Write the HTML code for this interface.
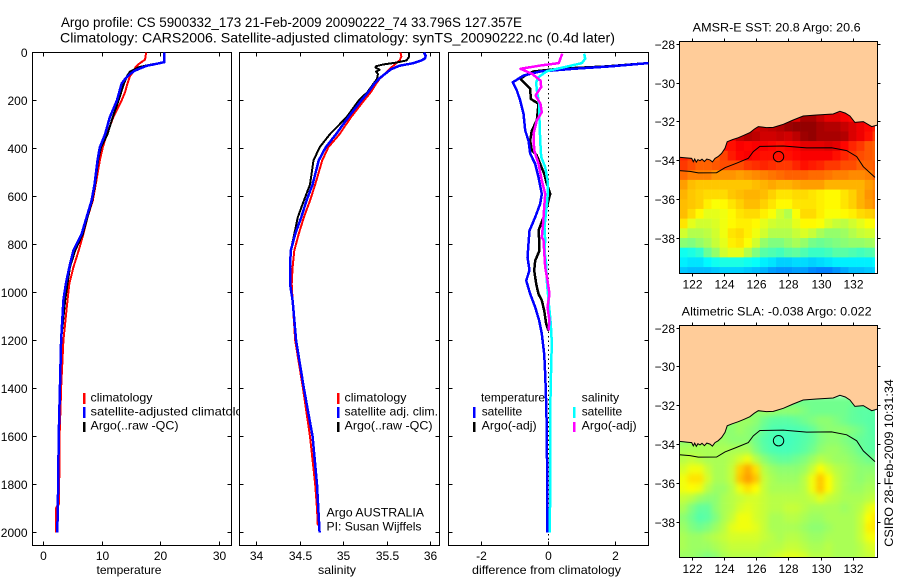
<!DOCTYPE html>
<html>
<head>
<meta charset="utf-8">
<title>Argo profile</title>
<style>
html,body{margin:0;padding:0;background:#fff;}
svg{display:block;}
text{font-family:"Liberation Sans",sans-serif;font-size:12px;fill:#000;}
.title{font-size:14px;}
</style>
</head>
<body>
<svg id="chart" xmlns="http://www.w3.org/2000/svg" width="900" height="580" viewBox="0 0 900 580">
<defs>
<clipPath id="clip-diff"><rect x="448.5" y="52.5" width="200" height="493"/></clipPath>
<clipPath id="clip-map1"><rect x="679.5" y="41.5" width="195.5" height="232"/></clipPath>
<clipPath id="clip-map2"><rect x="679.5" y="325.5" width="195.5" height="232"/></clipPath>
<filter id="soften" filterUnits="userSpaceOnUse" x="650" y="300" width="250" height="280" color-interpolation-filters="sRGB"><feGaussianBlur stdDeviation="2.6"/></filter>
</defs>
<rect x="0" y="0" width="900" height="580" fill="#fff"/>
<text class="title" x="61" y="27" textLength="461" lengthAdjust="spacingAndGlyphs">Argo profile: CS 5900332_173 21-Feb-2009 20090222_74 33.796S 127.357E</text>
<text class="title" x="60" y="42.5" textLength="555" lengthAdjust="spacingAndGlyphs">Climatology: CARS2006. Satellite-adjusted climatology: synTS_20090222.nc (0.4d later)</text>

<g id="panel-temp">
<rect x="32.5" y="52.5" width="199" height="493" fill="#fff" stroke="#000"/>
<g id="temp-ticks"></g>
<g id="temp-lines"></g>
<text x="129" y="574" text-anchor="middle" textLength="65" lengthAdjust="spacingAndGlyphs">temperature</text>
<rect x="83" y="393" width="2.5" height="11" fill="#f00"/>
<rect x="83" y="407" width="2.5" height="11" fill="#00f"/>
<rect x="83" y="422" width="2.5" height="10" fill="#000"/>
<text x="90.5" y="401.5" textLength="62" lengthAdjust="spacingAndGlyphs">climatology</text>
<text x="90.5" y="415.7" textLength="166" lengthAdjust="spacingAndGlyphs">satellite-adjusted climatology</text>
<text x="90.5" y="429.7" textLength="88" lengthAdjust="spacingAndGlyphs">Argo(..raw -QC)</text>
</g>

<g id="panel-sal">
<rect x="239.5" y="52.5" width="200" height="493" fill="#fff" stroke="#000"/>
<g id="sal-ticks"></g>
<g id="sal-lines"></g>
<text x="337" y="574" text-anchor="middle" textLength="38" lengthAdjust="spacingAndGlyphs">salinity</text>
<rect x="337" y="393" width="2.5" height="11" fill="#f00"/>
<rect x="337" y="407" width="2.5" height="11" fill="#00f"/>
<rect x="337" y="422" width="2.5" height="10" fill="#000"/>
<text x="344.5" y="401.5" textLength="62" lengthAdjust="spacingAndGlyphs">climatology</text>
<text x="344.5" y="415.7" textLength="93.5" lengthAdjust="spacingAndGlyphs">satellite adj. clim.</text>
<text x="344.5" y="429.7" textLength="88" lengthAdjust="spacingAndGlyphs">Argo(..raw -QC)</text>
<text x="326.5" y="516.7" textLength="97.5" lengthAdjust="spacingAndGlyphs">Argo AUSTRALIA</text>
<text x="326.5" y="530.7" textLength="95" lengthAdjust="spacingAndGlyphs">PI: Susan Wijffels</text>
</g>

<g id="panel-diff">
<rect x="448.5" y="52.5" width="200" height="493" fill="#fff" stroke="#000"/>
<g id="diff-ticks"></g>
<g id="diff-lines" clip-path="url(#clip-diff)"></g>
<text x="546.5" y="574" text-anchor="middle" textLength="149" lengthAdjust="spacingAndGlyphs">difference from climatology</text>
<text x="481" y="401.5" textLength="64" lengthAdjust="spacingAndGlyphs">temperature</text>
<text x="581.7" y="401.5" textLength="37.5" lengthAdjust="spacingAndGlyphs">salinity</text>
<rect x="473" y="407" width="2.5" height="11" fill="#00f"/>
<rect x="473" y="422" width="2.5" height="10" fill="#000"/>
<rect x="573" y="407" width="2.5" height="11" fill="#0ff"/>
<rect x="573" y="422" width="2.5" height="10" fill="#f0f"/>
<text x="481.7" y="415.7" textLength="40.5" lengthAdjust="spacingAndGlyphs">satellite</text>
<text x="481.7" y="429.7" textLength="55" lengthAdjust="spacingAndGlyphs">Argo(-adj)</text>
<text x="581.7" y="415.7" textLength="40.5" lengthAdjust="spacingAndGlyphs">satellite</text>
<text x="581.7" y="429.7" textLength="55" lengthAdjust="spacingAndGlyphs">Argo(-adj)</text>
</g>

<g id="map-sst">
<text x="692.7" y="31.5" textLength="168" lengthAdjust="spacingAndGlyphs">AMSR-E SST: 20.8 Argo: 20.6</text>
<g clip-path="url(#clip-map1)"><g id="sst-cells"></g></g>
<g id="sst-overlay"></g>
<rect x="679.5" y="41.5" width="198" height="232" fill="none" stroke="#000"/>
<g id="sst-ticks"></g>
</g>

<g id="map-sla">
<text x="681.7" y="315.5" textLength="190" lengthAdjust="spacingAndGlyphs">Altimetric SLA: -0.038 Argo: 0.022</text>
<g clip-path="url(#clip-map2)"><g id="sla-cells" filter="url(#soften)"></g></g>
<g id="sla-overlay"></g>
<rect x="679.5" y="325.5" width="198" height="232" fill="none" stroke="#000"/>
<g id="sla-ticks"></g>
</g>

<text transform="translate(893,546.7) rotate(-90)" textLength="167.5" lengthAdjust="spacingAndGlyphs">CSIRO 28-Feb-2009 10:31:34</text>
</svg>

<script>
/* ---------- tick labels ---------- */
const depthTicks = [0,200,400,600,800,1000,1200,1400,1600,1800,2000];
const tempTicks = [0,10,20,30];
const salTicks = [34,34.5,35,35.5,36];
const diffTicks = [-2,0,2];
const lonTicks = [122,124,126,128,130,132];
const latTicks = [-28,-30,-32,-34,-36,-38];

/* ---------- temperature profiles ---------- */
const tempClimDepth = [0,30,45,60,80,100,130,165,200,270,340,395,450,550,617,686,756,825,895,964,1033,1200,1400,1450];
const tempClimValue = [17.5,17.3,16.4,15.7,15.3,14.7,14.3,13.9,13.3,11.9,10.8,10.1,9.6,8.9,8.4,7.5,6.8,6.0,5.1,4.4,4.1,3.4,3.0,3.0];
const tempClimDeepDepth = [1450,1600,1780,1880,1900,2000];
const tempClimDeepValue = [2.9,2.7,2.65,2.6,2.15,2.2];
const tempArgoDepth = [0,40,50,60,80,100,130,200,270,340,395,450,550,617,686,756,825,895,964,1033,1200,1400,1600,1800,2000];
const tempArgoValue = [20.6,20.6,18.4,16.4,14.7,14.2,13.7,12.8,11.8,10.9,9.8,9.3,8.8,8.3,7.5,6.7,5.4,4.5,4.1,3.7,3.0,2.8,2.6,2.5,2.35];
const tempSatDepth = [0,40,50,55,75,90,110,130,200,270,340,395,450,550,617,686,756,825,895,964,1033,1200,1400,1600,1800,2000];
const tempSatValue = [20.6,20.6,18.7,17.6,15.6,14.7,13.9,13.3,12.5,11.3,10.5,9.6,9.2,8.7,8.2,7.35,6.5,5.1,4.4,3.8,3.4,3.0,2.8,2.6,2.5,2.35];

/* ---------- salinity profiles ---------- */
const salClimDepth = [0,17,33,45,70,90,110,130,165,200,270,340,395,450,550,617,686,756,825,895,964,1033,1200,1400,1600,1800,1900,1970];
const salClimValue = [35.65,35.66,35.64,35.6,35.52,35.47,35.41,35.37,35.31,35.23,35.08,34.95,34.82,34.75,34.67,34.61,34.54,34.48,34.43,34.41,34.4,34.41,34.44,34.53,34.61,34.67,34.69,34.7];
const salArgoDepth = [0,17,33,42,50,57,62,72,80,90,110,130,165,200,270,340,395,450,550,617,686,756,825,895,964,1033,1200,1400,1600,1800,2000];
const salArgoValue = [35.75,35.75,35.72,35.6,35.45,35.37,35.36,35.41,35.37,35.39,35.38,35.34,35.27,35.17,35.03,34.84,34.72,34.65,34.61,34.54,34.47,34.43,34.39,34.38,34.38,34.41,34.45,34.54,34.64,34.69,34.72];
const salSatDepth = [0,14,25,33,45,55,70,90,110,130,165,200,270,340,395,450,550,617,686,756,825,895,964,1033,1200,1400,1600,1800,2000];
const salSatValue = [35.92,35.94,35.93,35.89,35.79,35.64,35.54,35.47,35.4,35.35,35.28,35.2,35.05,34.91,34.79,34.71,34.64,34.57,34.51,34.44,34.39,34.38,34.38,34.41,34.45,34.54,34.64,34.69,34.72];

/* ---------- differences from climatology ---------- */
const diffTempArgoDepth = [0,40,44,58,68,79,96,110,130,151,193,214,283,325,367,408,429,464,505,547,589,644,686,742,783,825,867,908,964,1006,1033,1075,1131,1160];
const diffTempArgoValue = [3.1,3.1,3.0,1.75,0.3,-0.45,-0.7,-0.85,-0.7,-0.55,-0.53,-0.3,-0.35,-0.5,-0.55,-0.5,-0.35,-0.25,-0.13,-0.05,0.05,-0.05,-0.15,-0.3,-0.28,-0.27,-0.4,-0.43,-0.37,-0.3,-0.2,-0.13,-0.07,0];
const diffTempSatDepth = [0,40,44,58,68,79,96,124,158,200,255,325,367,422,464,520,589,630,686,742,797,853,908,950,1006,1061,1117,1172,1256,1340,1464,1575,1800,2000];
const diffTempSatValue = [3.1,3.1,3.0,1.85,0.75,-0.25,-0.75,-1.07,-0.95,-0.85,-0.75,-0.7,-0.6,-0.55,-0.4,-0.3,-0.2,-0.25,-0.4,-0.57,-0.6,-0.63,-0.57,-0.67,-0.55,-0.4,-0.28,-0.2,-0.13,-0.1,-0.07,-0.05,-0.04,-0.03];
const diffSalSatDepth = [5,26,44,54,68,78,103,124,158,214,283,367,436,478,533,603,658,728,783,825,881,950,1033,1103,1158,1214,1297,1436,1575,1800,2000];
const diffSalSatValue = [1.07,1.1,1.0,0.7,0.25,-0.05,-0.3,-0.37,-0.35,-0.28,-0.27,-0.25,-0.22,-0.1,-0.03,-0.03,-0.07,-0.12,-0.1,-0.12,-0.07,-0.05,0,0.05,0.08,0.1,0.08,0.06,0.05,0.05,0.04];
const diffSalArgoDepth = [5,44,54,68,89,117,144,179,214,249,283,339,408,464,533,589,644,728,769,783,895,950,1006,1061,1117,1158];
const diffSalArgoValue = [0.41,0.31,-0.24,-0.84,-0.49,-0.24,-0.22,-0.39,-0.24,-0.2,-0.35,-0.45,-0.43,-0.3,-0.2,-0.1,-0.13,-0.17,-0.2,-0.15,-0.1,-0.03,0.03,-0.03,0.03,0];

/* ---------- maps: rows from -31.5 south in 0.5 deg, columns from 121.2 east in 0.5 deg ---------- */
const sstValues = [
[21,21,21,21,21,21,21,21,21,21,21,21,21,21,21,21.6,21.6,21.3,21,21,20.8,20.7,20.7,20.6,20.5],
[20.8,20.8,20.8,20.8,20.8,20.8,20.8,20.8,20.8,21.2,21.3,21.4,21.5,21.7,21.8,21.8,21.8,21.6,21.5,21.5,21.3,21.1,20.9,20.7,20.5],
[20.8,20.8,20.8,20.8,20.8,20.8,20.8,21.3,21.5,21.4,21.2,21.2,21.3,21.2,21.4,21.7,21.8,21.6,21.6,21.6,21.5,21.1,20.9,20.6,20.2],
[20.6,20.6,20.6,20.6,20.6,20.6,20.6,20.8,20.7,20.8,20.8,20.7,20.6,20.7,20.8,21,21,21,21.1,21,20.7,20.4,20.2,19.9,19.8],
[20.4,20.2,20,19.9,19.8,20.1,20.5,20.7,20.8,20.7,20.6,20.6,20.6,20.6,20.7,20.8,20.8,20.8,20.8,20.6,20.4,20.2,20,19.9,19.8],
[20.2,20,19.8,19.8,19.9,20,20,20,20.2,20.3,20.4,20.3,20.2,20.2,20.4,20.6,20.5,20.4,20.2,20.2,20,20,19.8,19.8,19.9],
[19.7,19.5,19.5,19.5,19.3,19.3,19.3,19.2,19.3,19.4,19.5,19.6,19.7,19.8,19.8,19.8,19.7,19.7,19.6,19.5,19.5,19.4,19.4,19.5,19.8],
[19.2,18.9,18.8,18.8,18.8,18.8,18.8,18.8,18.8,18.9,19,19.1,19,19,19.1,19.2,19.2,19.2,19,19,19,19,19,19.2,19.4],
[19,18.8,18.7,18.6,18.6,18.6,18.8,18.9,19,19,18.9,18.7,18.5,18.5,18.6,18.6,18.5,18.4,18.3,18.3,18.5,18.7,19,19.3,19.5],
[18.9,18.8,18.7,18.4,18.2,18.3,18.5,18.7,18.9,18.9,18.7,18.5,18.3,18.3,18.5,18.5,18.5,18.4,18.3,18.3,18.5,18.7,19,19.2,19.4],
[18.9,18.6,18.3,18,18,18.1,18.3,18.5,18.6,18.6,18.4,18.2,17.8,17.5,18.2,18.6,18.6,18.4,18.2,18.2,18.3,18.4,18.6,18.7,18.8],
[18.5,18,17.8,17.8,17.9,18.1,18.3,18.4,18.4,18.3,18,17.8,17.7,17.7,18,18.3,18.3,18.2,17.9,17.7,17.6,17.8,18,18.2,18.3],
[17.8,17.5,17.5,17.6,17.8,18.1,18.5,18.6,18.4,18.1,17.8,17.5,17.5,17.5,17.7,17.9,17.7,17.4,17.2,17.2,17.3,17.5,17.7,17.8,17.8],
[17.1,17,17.2,17.4,17.7,18,18.4,18.5,18.2,17.8,17.2,17,17,17.2,17.4,17.2,16.9,16.8,16.9,17,17.1,17.2,17.2,17.3,17.4],
[15.9,16,16.2,16.8,17.2,17.8,18,18,17.5,17,16.6,16.5,16.4,16.6,16.7,16.5,16.3,16.3,16.4,16.6,16.6,16.5,16.4,16.5,16.6],
[15.6,15.5,15.5,15.7,15.9,16,16,16,15.9,15.8,15.6,15.5,15.3,15.3,15.4,15.4,15.3,15.4,15.5,15.6,15.6,15.6,15.6,15.6,15.7],
[15.2,15.1,15.1,15.1,15.2,15.3,15.3,15.3,15.2,15.1,15,14.8,14.7,14.7,14.8,14.8,14.6,14.5,14.5,14.7,14.9,15.1,15.1,15.2,15.3]
];
const slaValues = [
[1,1,1,1,1,1,1,1,1,1,1,1,1,1,1,1,1,1,1,1,1,1,1,1,1],
[1,1,1,1,1,1,1,1,1,2,2.5,2.5,2,2,2,1.5,1,1,1,1,1,0.5,0.2,0.2,0.2],
[2,2,2,2,2,2,2,2.5,2.5,2,1,0.3,0.2,0.2,0.5,1,1.5,2,2,1.5,1,0.5,0.3,0.1,0.1],
[2,2,2,2,2,2,2,2.5,2,1.5,0.5,-0.2,-0.3,-0.4,-0.3,-0.1,0.5,1.5,2,2,2,1.5,1,0.3,-0.1],
[2,2.5,3,3,2.5,2.5,2,2,2,1,0,-0.4,-0.7,-0.7,-0.4,0,0.5,1.5,2,2,1.5,1,0.6,0.3,0.1],
[3,3,3,3,3,3,3,3,3,1.5,0.3,-0.3,-0.5,-0.5,-0.2,0.2,1,2,2.5,2.5,2,1.5,0.7,0.3,0.1],
[3.5,4,3.5,3,3,3,3.5,4.5,5.5,3.5,2,1,0.5,0.5,1,1.5,2.5,3.5,3,2.5,2.5,2,1.5,1,1],
[4.5,5.5,5.5,4,3,3,4,7.5,9,7,3.5,2.5,2,2,2,2.5,4,6,4.5,3.5,3,2.5,2,2,2],
[5.5,7,7,4.5,3,3,4,8,9.5,8,4,3,2.5,2.5,2.5,3.5,5.5,8,6,4,3,2.5,2,2.5,2.5],
[5.5,6,5.5,3.5,2.5,2.5,3.5,5.5,7,6,4,3,3,3,3,3.5,5.5,8,6,4,3,2.5,2.5,3,3],
[4,3.5,2.5,2,2,3,3.5,4,4.5,4.5,4,3.5,3.5,3.5,3.5,3.5,4,5,4,3.5,3,3,3,3.5,4],
[3,1.5,0.5,0.5,2,3,3.5,4.5,5,4.5,4,3.5,3.5,4,4,3.5,3,3,3,3,2.5,3,3.5,5,6],
[2,1,0,0.3,1.5,3,4,5.5,5.5,4.5,4,3,3,3.5,3.5,3,2.5,2.5,3,3,3,3,4,6,7],
[2.5,1.5,1,1.5,2.5,3.5,5,5.5,5.5,5,4,3,3,3,3,2.5,2,2,2.5,3,3,3,4,6.5,7],
[3,2.5,2.5,3,3.5,4,4.5,4.5,4.5,4.5,4,3.5,3,3.5,3.5,3,2.5,2.5,3,3,3,3,4,5.5,6],
[3,2.5,2.5,2.5,3,3.5,4,4,4,4,3.5,3.5,3.5,4,4,3.5,3,3,3.5,3,3,3,3.5,4.5,5],
[2.5,2.5,2,1.5,2,3,3.5,3.5,3.5,3.5,3.5,4,4.5,5,5,4.5,3.5,3.5,3.5,3,3,3,3.5,4,4.5]
];
const coastLon = [121.19,121.44,121.7,121.96,122.06,122.15,122.25,122.35,122.48,122.6,122.75,122.9,123.1,123.25,123.41,123.6,123.82,124.03,124.17,124.5,124.86,125.2,125.58,125.85,126.1,126.6,127.03,127.65,128.27,128.89,129.72,130.75,131.17,131.5,131.79,132.1,132.62,133.14,133.49];
const coastLat = [-33.83,-33.85,-33.87,-33.89,-34.06,-33.92,-34.08,-33.95,-34.01,-33.93,-34.05,-33.92,-33.97,-34.07,-33.89,-33.8,-33.63,-33.37,-33.03,-32.92,-32.82,-32.7,-32.56,-32.38,-32.25,-32.3,-32.29,-32.13,-31.91,-31.7,-31.65,-31.6,-31.46,-31.55,-31.7,-32.03,-31.99,-32.25,-32.17];
const shelfLon = [121.19,121.86,122.37,123.51,124.03,124.75,125.48,125.79,126.2,127.65,129.1,130.65,131.59,132.21,132.62,133.35];
const shelfLat = [-34.52,-34.56,-34.64,-34.63,-34.37,-34.14,-33.89,-33.54,-33.27,-33.25,-33.35,-33.34,-33.49,-33.8,-34.32,-34.87];
const argoLon = 127.357;
const argoLat = -33.796;

/* ---------- axis functions ---------- */
const NS = 'http://www.w3.org/2000/svg';
function linear(d0, d1, r0, r1) { return v => r0 + (v - d0) * (r1 - r0) / (d1 - d0); }
const yDepth = linear(0, 2054, 52.5, 545.5);
const xTemp = linear(-1.87, 32.03, 32.5, 231.5);
const xSal = linear(33.8, 36.098, 239.5, 439.5);
const xDiff = linear(-3, 3, 448.5, 648.5);
const xLon = linear(122, 132, 692.3, 853.3);
const ySst = linear(-28, -38, 44.3, 238);
const ySla = linear(-28, -38, 328, 522.5);
const colorSst = v => jet((v - 12) / 10);
const colorSla = v => jet((v + 16.5) / 36);

function jet(t) {
  t = Math.max(0, Math.min(1, t));
  const c = x => Math.round(255 * Math.max(0, Math.min(1, x)));
  const r = Math.min(4 * t - 1.5, -4 * t + 4.5);
  const g = Math.min(4 * t - 0.5, -4 * t + 3.5);
  const b = Math.min(4 * t + 0.5, -4 * t + 2.5);
  return 'rgb(' + c(r) + ',' + c(g) + ',' + c(b) + ')';
}
function make(tag, parentId, attrs) {
  const el = document.createElementNS(NS, tag);
  for (const k in attrs) el.setAttribute(k, attrs[k]);
  document.getElementById(parentId).appendChild(el);
  return el;
}
function tickLine(parentId, x1, y1, x2, y2) {
  const el = make('line', parentId, {x1: x1, y1: y1, x2: x2, y2: y2, stroke: '#000', 'stroke-width': 1});
  
  
}
function tickText(parentId, x, y, anchor, str) {
  const el = make('text', parentId, {x: x, y: y, 'text-anchor': anchor});
  el.textContent = str;
  
  
}
function profile(parentId, xf, depths, values, color, width, name) {
  const pts = depths.map((d, i) => xf(values[i]).toFixed(1) + ',' + yDepth(d).toFixed(1)).join(' ');
  const el = make('polyline', parentId, {points: pts, fill: 'none', stroke: color, 'stroke-width': width, 'stroke-linejoin': 'round', 'shape-rendering': 'crispEdges'});
  
  
}
function profileAxes(parentId, xf, ticks, x0, x1, labels) {
  depthTicks.forEach(d => {
    const y = Math.round(yDepth(d) - 0.5) + 0.5;
    tickLine(parentId, x0, y, x0 + 4, y);
    tickLine(parentId, x1 - 4, y, x1, y);
    if (labels) tickText(parentId, 27.5, y + 4.5, 'end', String(d));
  });
  ticks.forEach(t => {
    const x = Math.round(xf(t) - 0.5) + 0.5;
    tickLine(parentId, x, 52.5, x, 56.5);
    tickLine(parentId, x, 541.5, x, 545.5);
    tickText(parentId, x, 560, 'middle', String(t));
  });
}

/* ---------- profile panels ---------- */
profileAxes('temp-ticks', xTemp, tempTicks, 32.5, 231.5, true);
profileAxes('sal-ticks', xSal, salTicks, 239.5, 439.5, false);
profileAxes('diff-ticks', xDiff, diffTicks, 448.5, 648.5, false);

profile('temp-lines', xTemp, tempClimDepth, tempClimValue, '#f00', 2, 'temperature-climatology-line');
profile('temp-lines', xTemp, tempClimDeepDepth, tempClimDeepValue, '#f00', 2.5, 'temperature-climatology-deep-line');
profile('temp-lines', xTemp, tempArgoDepth, tempArgoValue, '#000', 2, 'temperature-argo-line');
profile('temp-lines', xTemp, tempSatDepth, tempSatValue, '#00f', 2.5, 'temperature-satellite-line');

profile('sal-lines', xSal, salClimDepth, salClimValue, '#f00', 2, 'salinity-climatology-line');
profile('sal-lines', xSal, salArgoDepth, salArgoValue, '#000', 2, 'salinity-argo-line');
profile('sal-lines', xSal, salSatDepth, salSatValue, '#00f', 2.5, 'salinity-satellite-line');

const zeroLine = make('line', 'diff-lines', {x1: xDiff(0), y1: 52.5, x2: xDiff(0), y2: 545.5, stroke: '#000', 'stroke-width': 1, 'stroke-dasharray': '1.5 3'});


profile('diff-lines', xDiff, diffTempArgoDepth, diffTempArgoValue, '#000', 2.5, 'difference-temperature-argo-line');
profile('diff-lines', xDiff, diffTempSatDepth, diffTempSatValue, '#00f', 2.5, 'difference-temperature-satellite-line');
profile('diff-lines', xDiff, diffSalSatDepth, diffSalSatValue, '#0ff', 2.5, 'difference-salinity-satellite-line');
profile('diff-lines', xDiff, diffSalArgoDepth, diffSalArgoValue, '#f0f', 2.5, 'difference-salinity-argo-line');

/* ---------- maps ---------- */
function drawMap(prefix, values, yLat, colorOf, top, bottom, labelBase) {
  values.forEach((row, j) => {
    row.forEach((v, i) => {
      const lonA = 121.2 + i * 0.5;
      const latA = -31.5 - j * 0.5;
      const bleedLeft = i === 0 ? 12 : 0;
      const bleedBottom = j === values.length - 1 ? 12 : 0;
      const x = xLon(lonA) - bleedLeft;
      const y = yLat(latA);
      const cell = make('rect', prefix + '-cells', {x: x.toFixed(2), y: y.toFixed(2), width: (xLon(lonA + 0.5) - x + 0.3).toFixed(2), height: (yLat(latA - 0.5) - y + 0.3 + bleedBottom).toFixed(2), fill: colorOf(v)});
      
      
    });
  });
  const land = coastLon.map((lon, i) => xLon(lon).toFixed(1) + ',' + yLat(coastLat[i]).toFixed(1));
  land.push('877.5,' + top, '679.5,' + top);
  const landEl = make('polygon', prefix + '-overlay', {points: land.join(' '), fill: '#ffcc99'});
  
  
  const coast = make('polyline', prefix + '-overlay', {points: coastLon.map((lon, i) => xLon(lon).toFixed(1) + ',' + yLat(coastLat[i]).toFixed(1)).join(' '), fill: 'none', stroke: '#000', 'stroke-width': 1});
  
  
  const shelf = make('polyline', prefix + '-overlay', {points: shelfLon.map((lon, i) => xLon(lon).toFixed(1) + ',' + yLat(shelfLat[i]).toFixed(1)).join(' '), fill: 'none', stroke: '#000', 'stroke-width': 1});
  
  
  const marker = make('circle', prefix + '-overlay', {cx: xLon(argoLon), cy: yLat(argoLat), r: 5.2, fill: 'none', stroke: '#000', 'stroke-width': 1});
  
  
  latTicks.forEach(lat => {
    const y = Math.round(yLat(lat) - 0.5) + 0.5;
    tickLine(prefix + '-ticks', 676.5, y, 679.5, y);
    tickLine(prefix + '-ticks', 877.5, y, 880.5, y);
    tickText(prefix + '-ticks', 675, y + 4.5, 'end', String(lat).replace('-', '\u2212'));
  });
  lonTicks.forEach(lon => {
    const x = Math.round(xLon(lon) - 0.5) + 0.5;
    tickLine(prefix + '-ticks', x, top - 3, x, top);
    tickLine(prefix + '-ticks', x, bottom, x, bottom + 3);
    tickText(prefix + '-ticks', x, labelBase, 'middle', String(lon));
  });
}
drawMap('sst', sstValues, ySst, colorSst, 41.5, 273.5, 288.5);
drawMap('sla', slaValues, ySla, colorSla, 325.5, 557.5, 573);
</script>
</body>
</html>
